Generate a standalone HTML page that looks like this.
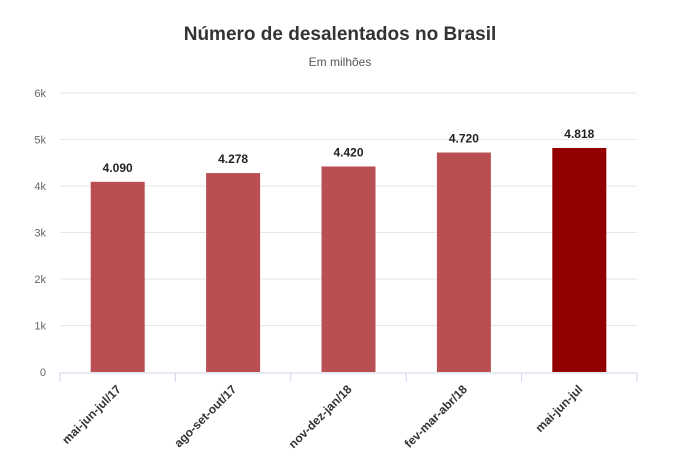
<!DOCTYPE html>
<html><head><meta charset="utf-8"><style>
body{margin:0;background:#fff;width:699px;height:454px;overflow:hidden;font-family:"Liberation Sans",sans-serif}
</style></head><body>
<svg id="chart" width="699" height="454" xmlns="http://www.w3.org/2000/svg">
<text x="340" y="40" text-anchor="middle" font-size="19" font-weight="bold" fill="#333">Número de desalentados no Brasil</text>
<text x="340" y="66" text-anchor="middle" font-size="12" fill="#555">Em milhões</text>
<g id="grid"></g><g id="bars"></g><g id="axis"></g>
</svg>
<script>
const categories=["mai-jun-jul/17","ago-set-out/17","nov-dez-jan/18","fev-mar-abr/18","mai-jun-jul"];
const values=[4.090,4.278,4.420,4.720,4.818];
const valueLabels=["4.090","4.278","4.420","4.720","4.818"];
const yTicks=[0,1,2,3,4,5,6];
const yTickLabels=["0","1k","2k","3k","4k","5k","6k"];
const NS="http://www.w3.org/2000/svg";
const x0=60,x1=637,yBase=372,yTop=93,yMax=6;
const y=v=>yBase-(v/yMax)*(yBase-yTop);
const band=(x1-x0)/categories.length;
const xc=i=>x0+band*(i+0.5);
function mk(tag,attrs,parent,text){const e=document.createElementNS(NS,tag);for(const k in attrs)e.setAttribute(k,attrs[k]);if(text!==undefined)e.textContent=text;parent.appendChild(e);return e;}
const grid=document.getElementById('grid'),bars=document.getElementById('bars'),axis=document.getElementById('axis');
yTicks.forEach((t,i)=>{
 if(t>0){const l=mk('line',{x1:x0,x2:x1,y1:y(t),y2:y(t),stroke:'#e6e6e6'},grid);
 
 }
 const tx=mk('text',{x:46,y:y(t)+4,'text-anchor':'end','font-size':11,fill:'#666'},axis,yTickLabels[i]);
 
 
});
const bw=54;
values.forEach((v,i)=>{
 const r=mk('rect',{x:xc(i)-bw/2,y:y(v),width:bw,height:yBase-y(v),fill:i===values.length-1?'#930000':'#b94f52'},bars);
 
 
 const t=mk('text',{x:xc(i),y:y(v)-10,'text-anchor':'middle','font-size':12,'font-weight':'bold',fill:'#222'},bars,valueLabels[i]);
 
 
});
const ax=mk('line',{x1:x0,x2:x1,y1:yBase+1,y2:yBase+1,stroke:'#ccd6eb'},axis);


for(let i=0;i<=categories.length;i++){
 const tk=mk('line',{x1:x0+band*i,x2:x0+band*i,y1:yBase+1,y2:yBase+10,stroke:'#ccd6eb'},axis);
 
 
}
categories.forEach((c,i)=>{
 const t=mk('text',{x:xc(i)+4,y:yBase+18,'text-anchor':'end','font-size':12,'font-weight':'bold',fill:'#333',transform:`rotate(-45 ${xc(i)+4} ${yBase+18})`},axis,c);
 
 
});
</script>
</body></html>
